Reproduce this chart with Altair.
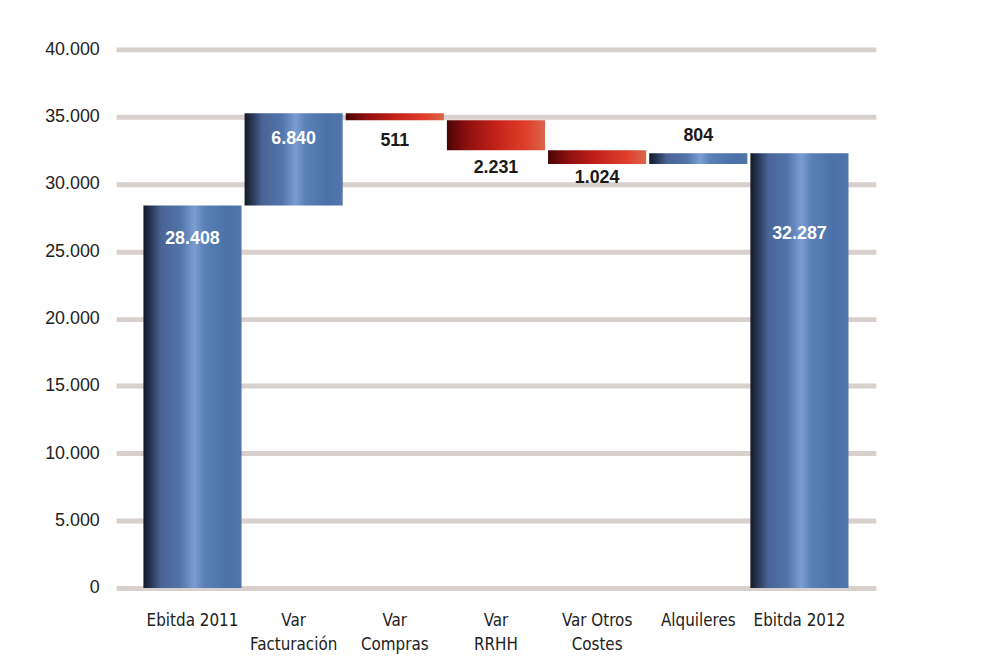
import altair as alt
import pandas as pd

categories = ["Ebitda 2011", "Var\nFacturación", "Var\nCompras", "Var\nRRHH",
              "Var Otros\nCostes", "Alquileres", "Ebitda 2012"]
values = [28408, 6840, -511, -2231, -1024, 804, 32287]
is_total = [True, False, False, False, False, False, True]
y_ticks = [0, 5000, 10000, 15000, 20000, 25000, 30000, 35000, 40000]

rows = []
running = 0
for i, (c, v, t) in enumerate(zip(categories, values, is_total)):
    if t:
        start, end = 0, v
        running = v
    else:
        start, end = running, running + v
        running = end
    rows.append(dict(idx=i, cat=c, value=v, start=start, end=end,
                     lo=min(start, end), hi=max(start, end),
                     kind="pos" if v >= 0 else "neg",
                     label=f"{abs(v):,}".replace(",", ".")))
df = pd.DataFrame(rows)

blue_grad = alt.Gradient(
    gradient="linear", x1=0, x2=1, y1=0, y2=0,
    stops=[
        alt.GradientStop(offset=0.0, color="#131a29"),
        alt.GradientStop(offset=0.07, color="#26344f"),
        alt.GradientStop(offset=0.18, color="#4a6496"),
        alt.GradientStop(offset=0.38, color="#5174aa"),
        alt.GradientStop(offset=0.52, color="#7b9dd2"),
        alt.GradientStop(offset=0.62, color="#5a80b8"),
        alt.GradientStop(offset=0.85, color="#4a71a9"),
        alt.GradientStop(offset=1.0, color="#5276ab"),
    ])
red_grad = alt.Gradient(
    gradient="linear", x1=0, x2=1, y1=0, y2=0,
    stops=[
        alt.GradientStop(offset=0.0, color="#4a0404"),
        alt.GradientStop(offset=0.2, color="#8c0f0f"),
        alt.GradientStop(offset=0.5, color="#c4221a"),
        alt.GradientStop(offset=0.8, color="#df3e2b"),
        alt.GradientStop(offset=1.0, color="#d9654b"),
    ])

x_enc = alt.X(
    "cat:N", sort=categories,
    scale=alt.Scale(paddingInner=0.03, paddingOuter=0.27),
    axis=alt.Axis(title=None, labelAngle=0, domain=False, ticks=False,
                  labelExpr="split(datum.label, '\\n')",
                  labelFont="DejaVu Sans Condensed, Liberation Sans, sans-serif",
                  labelFontSize=17,
                  labelLineHeight=24, labelPadding=25, labelColor="#222222",
                  labelBaseline="top"))
y_enc = alt.Y(
    "lo:Q", scale=alt.Scale(domain=[0, 40000], nice=False, zero=True),
    axis=alt.Axis(title=None, values=y_ticks, format=",d",
                  labelExpr="replace(datum.label, ',', '.')",
                  domain=False, ticks=False, grid=True,
                  gridColor="#d8d0cc", gridWidth=5,
                  labelFont="Liberation Sans", labelFontSize=18,
                  labelPadding=17, labelColor="#222222"))

base = alt.Chart(df)
blue = base.transform_filter(alt.datum.kind == "pos").mark_bar(
    color=blue_grad).encode(x=x_enc, y=y_enc, y2="hi:Q")
red = base.transform_filter(alt.datum.kind == "neg").mark_bar(
    color=red_grad).encode(x=x_enc, y=y_enc, y2="hi:Q")


def value_label(i, field, dy, color):
    return base.transform_filter(alt.datum.idx == i).mark_text(
        dy=dy, fontSize=18, fontWeight="bold", color=color,
        font="Liberation Sans", baseline="middle", align="center"
    ).encode(x=alt.X("cat:N", sort=categories), y=alt.Y(f"{field}:Q"),
             text="label:N")


labels = [
    value_label(0, "hi", 34, "white"),
    value_label(1, "hi", 26, "white"),
    value_label(2, "lo", 21, "#1a1a1a"),
    value_label(3, "lo", 18, "#1a1a1a"),
    value_label(4, "lo", 14, "#1a1a1a"),
    value_label(5, "hi", -17, "#1a1a1a"),
    value_label(6, "hi", 81, "white"),
]

chart = alt.layer(blue, red, *labels).properties(
    width=766, height=543,
    padding={"left": 109, "top": 39, "right": 100, "bottom": 76},
    autosize=alt.AutoSizeParams(type="none"),
    background="white",
).configure_view(stroke=None)

chart.save("out.html", embed_options={"renderer": "svg", "actions": False})
